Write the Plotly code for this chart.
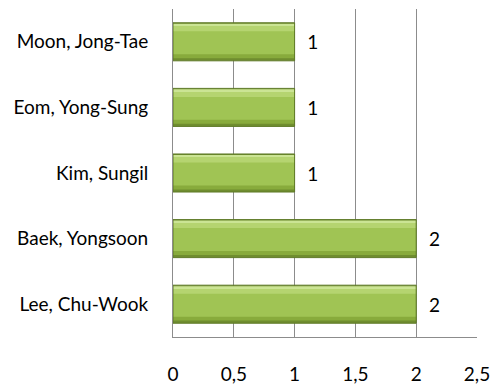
import plotly.graph_objects as go

# Data (listed bottom-to-top as drawn)
names = ["Lee, Chu-Wook", "Baek, Yongsoon", "Kim, Sungil", "Eom, Yong-Sung", "Moon, Jong-Tae"]
counts = [2, 2, 1, 1, 1]
x_ticks = [0, 0.5, 1, 1.5, 2, 2.5]

W = 0.58
FONT = dict(family="Lato, Open Sans, sans-serif", size=19, color="#000000")

fig = go.Figure()

# bevel layers: (offset, width, colour)
layers = [
    (-W / 2, W, "#6f8d2f"),                # dark edge / bottom
    (-W / 2 + 0.04, W - 0.07, "#88ab3c"),  # lower shade
    (-W / 2 + 0.10, W - 0.16, "#a0c454"),  # body
    (W / 2 - 0.13, 0.10, "#b5d470"),       # upper bevel
    (W / 2 - 0.045, 0.03, "#cbe494"),      # top highlight
]
for off, wid, col in layers:
    fig.add_trace(go.Bar(
        y=names, x=counts, orientation="h",
        offset=off, width=wid,
        marker=dict(color=col, line=dict(width=0)),
        showlegend=False, hoverinfo="skip",
    ))

# labels on a transparent full-size bar
fig.add_trace(go.Bar(
    y=names, x=counts, orientation="h",
    offset=-W / 2, width=W,
    marker=dict(color="rgba(0,0,0,0)", line=dict(width=1, color="#5f7a28")),
    text=counts, texttemplate="\u00a0\u00a0%{x}", textposition="outside",
    textfont=FONT, cliponaxis=False, showlegend=False, hoverinfo="skip",
))

fig.update_layout(
    width=494, height=385,
    margin=dict(l=173, r=17, t=9, b=48),
    barmode="overlay",
    plot_bgcolor="white", paper_bgcolor="white",
    separators=",.",
    font=FONT,
    xaxis=dict(
        range=[0, 2.5], tickvals=x_ticks, ticktext=[str(v).replace(".", ",") for v in x_ticks],
        showgrid=True, gridcolor="#8c8c8c", gridwidth=1,
        showline=True, linecolor="#8c8c8c", linewidth=1,
        ticks="outside", ticklen=20, tickcolor="rgba(0,0,0,0)",
        zeroline=False, fixedrange=True, automargin=False,
    ),
    yaxis=dict(
        showgrid=False, showline=True, linecolor="#8c8c8c", linewidth=1,
        ticks="outside", ticklen=20, tickcolor="rgba(0,0,0,0)",
        zeroline=False, fixedrange=True, automargin=False,
    ),
)

fig.write_html("out.html", config={"displayModeBar": False},
               post_script="document.body.style.margin='0';")
